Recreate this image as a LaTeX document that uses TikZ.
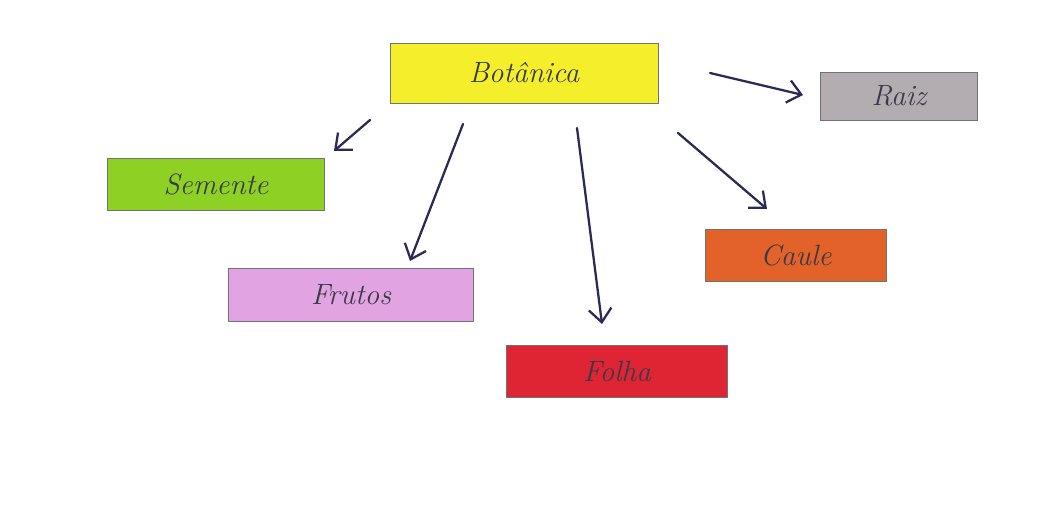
\documentclass[tikz,border=0pt]{standalone}
\usepackage{fontspec}
\usetikzlibrary{arrows.meta}
\definecolor{cyel}{HTML}{F4EF2A}
\definecolor{cgray}{HTML}{B3ADB1}
\definecolor{cgreen}{HTML}{8ED124}
\definecolor{cpink}{HTML}{E2A3E2}
\definecolor{cred}{HTML}{DF2533}
\definecolor{corange}{HTML}{E2622A}
\definecolor{cink}{HTML}{2B2A55}
\definecolor{ctext}{HTML}{3A3A48}
\begin{document}
\begin{tikzpicture}[x=0.75pt,y=-0.75pt,
  box/.style={draw=black!55, line width=0.6pt, inner sep=0pt, font=\fontsize{22}{26}\selectfont\itshape, text=ctext},
  arr/.style={draw=cink, line width=1.7pt, line cap=round, -{Straight Barb[length=10pt,width=17pt,line width=1.7pt]}}]
\useasboundingbox[fill=white] (0,0) rectangle (1059,506);
\node[box, fill=cyel, minimum width=201pt, minimum height=45pt] (bot) at (524,73) {Botânica};
\node[box, fill=cgray, minimum width=118pt, minimum height=36pt] (raiz) at (899,96) {Raiz};
\node[box, fill=cgreen, minimum width=163pt, minimum height=39pt] (sem) at (216,184) {Semente};
\node[box, fill=cpink, minimum width=184pt, minimum height=40pt] (fru) at (351,295) {Frutos};
\node[box, fill=cred, minimum width=166pt, minimum height=39pt] (fol) at (617,371) {Folha};
\node[box, fill=corange, minimum width=136pt, minimum height=39pt] (cau) at (796,255) {Caule};
\coordinate (s1) at (710,73);  \coordinate (e1) at (803,95);
\coordinate (s2) at (370,120); \coordinate (e2) at (334,151);
\coordinate (s3) at (463,124); \coordinate (e3) at (410,261);
\coordinate (s4) at (577,128); \coordinate (e4) at (602,324);
\coordinate (s5) at (678,133); \coordinate (e5) at (767,209);
\draw[arr] (s1) -- (e1);
\draw[arr] (s2) -- (e2);
\draw[arr] (s3) -- (e3);
\draw[arr] (s4) -- (e4);
\draw[arr] (s5) -- (e5);
\end{tikzpicture}
\end{document}
